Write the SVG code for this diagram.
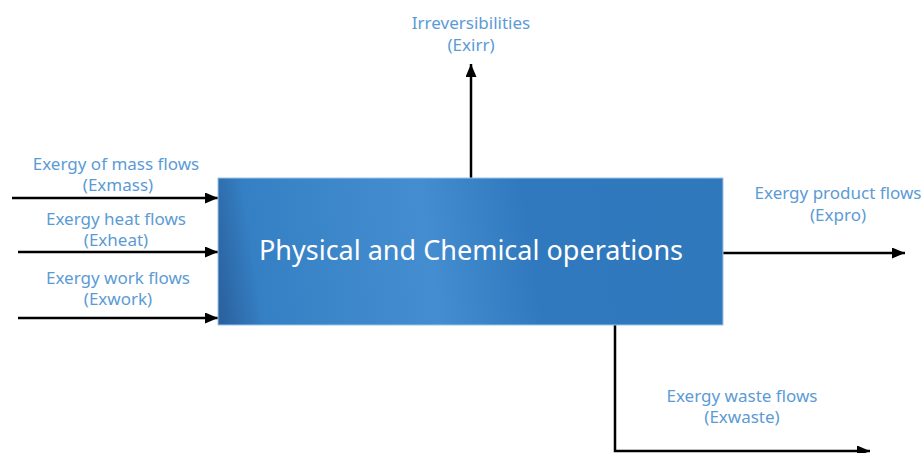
<svg xmlns="http://www.w3.org/2000/svg" width="923" height="453" viewBox="0 0 923 453">
<style>
.lbl{font-family:"Noto Sans","Liberation Sans",sans-serif;font-size:17px;fill:#5b9bd5;text-anchor:middle}
.title{font-family:"Noto Sans","Liberation Sans",sans-serif;font-size:27px;fill:#ffffff;text-anchor:middle}
.conn{stroke:#000;stroke-width:2.5;fill:none}
</style>
<defs>
<marker id="ah" viewBox="0 0 13 11" refX="13" refY="5.5" markerWidth="13" markerHeight="11" markerUnits="userSpaceOnUse" orient="auto">
<path d="M0,0 L13,5.5 L0,11 z" fill="#000"/>
</marker>
<linearGradient id="g" gradientUnits="userSpaceOnUse" x1="218" y1="290" x2="723" y2="215">
<stop offset="0" stop-color="#2b62a0"/>
<stop offset="0.08" stop-color="#3580c4"/>
<stop offset="0.42" stop-color="#448dd0"/>
<stop offset="0.62" stop-color="#3179be"/>
<stop offset="1" stop-color="#2f78bc"/>
</linearGradient>
</defs>
<g id="connectors">
<line class="conn" x1="12" y1="198" x2="218" y2="198" marker-end="url(#ah)"/>
<line class="conn" x1="18" y1="252" x2="218" y2="252" marker-end="url(#ah)"/>
<line class="conn" x1="18" y1="318" x2="218" y2="318" marker-end="url(#ah)"/>
<line class="conn" x1="471" y1="178" x2="471" y2="64" marker-end="url(#ah)"/>
<line class="conn" x1="723" y1="253" x2="905" y2="253" marker-end="url(#ah)"/>
<polyline class="conn" points="615,325 615,451 870,451" marker-end="url(#ah)"/>
</g>
<g id="process">
<rect x="218" y="178" width="505" height="147" fill="url(#g)" stroke="#9dc3e6" stroke-width="1"/>
<text class="title" x="471" y="260">Physical and Chemical operations</text>
</g>
<g id="mass">
<text class="lbl" x="116" y="170">Exergy of mass flows</text>
<text class="lbl" x="118" y="191">(Exmass)</text>
</g>
<g id="heat">
<text class="lbl" x="116" y="225">Exergy heat flows</text>
<text class="lbl" x="116" y="246">(Exheat)</text>
</g>
<g id="work">
<text class="lbl" x="118" y="284">Exergy work flows</text>
<text class="lbl" x="118" y="305">(Exwork)</text>
</g>
<g id="irr">
<text class="lbl" x="471" y="29">Irreversibilities</text>
<text class="lbl" x="471" y="51">(Exirr)</text>
</g>
<g id="product">
<text class="lbl" x="838" y="199">Exergy product flows</text>
<text class="lbl" x="838" y="221">(Expro)</text>
</g>
<g id="waste">
<text class="lbl" x="742" y="402">Exergy waste flows</text>
<text class="lbl" x="742" y="423">(Exwaste)</text>
</g>
</svg>
